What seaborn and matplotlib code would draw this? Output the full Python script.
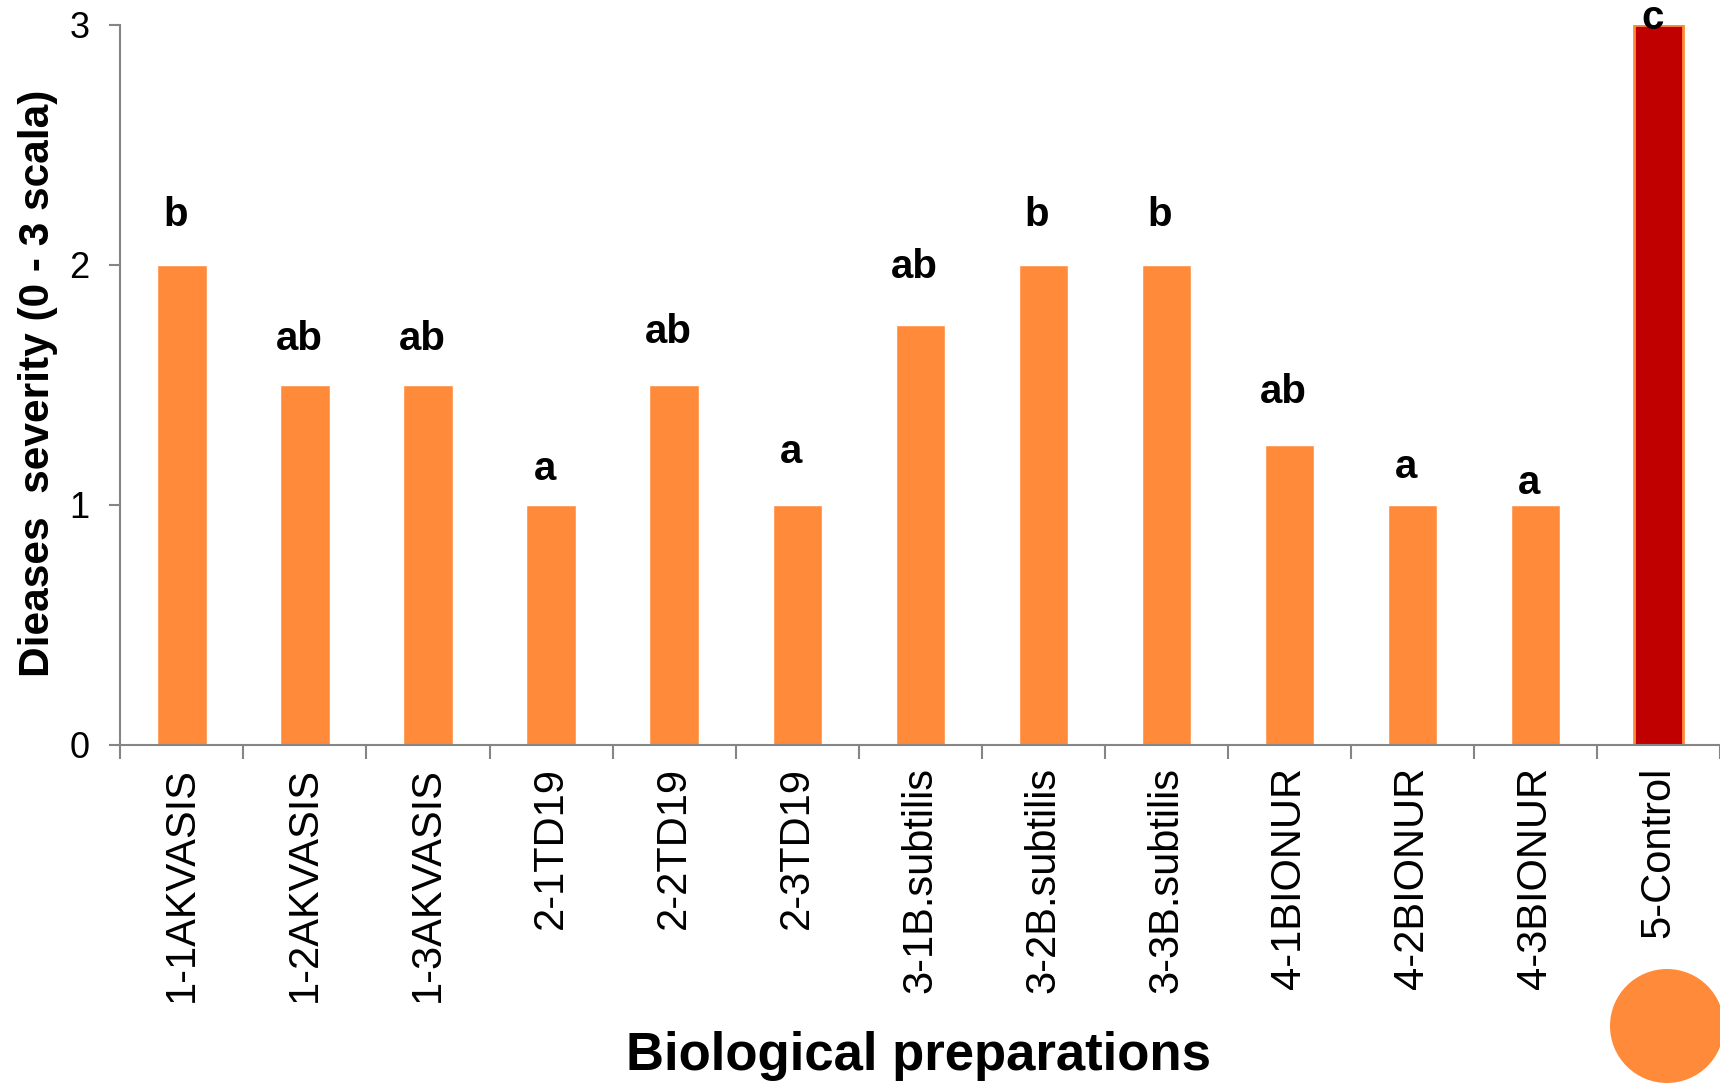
import matplotlib
matplotlib.use("Agg")
import matplotlib.pyplot as plt
from matplotlib.patches import Ellipse
import seaborn as sns
import pandas as pd

# Disease severity per biological preparation
treatments = [
    "1-1AKVASIS", "1-2AKVASIS", "1-3AKVASIS",
    "2-1TD19", "2-2TD19", "2-3TD19",
    "3-1B.subtilis", "3-2B.subtilis", "3-3B.subtilis",
    "4-1BIONUR", "4-2BIONUR", "4-3BIONUR",
    "5-Control",
]
severity = [2.0, 1.5, 1.5, 1.0, 1.5, 1.0, 1.75, 2.0, 2.0, 1.25, 1.0, 1.0, 3.0]
letters = ["b", "ab", "ab", "a", "ab", "a", "ab", "b", "b", "ab", "a", "a", "c"]

df = pd.DataFrame({"Treatment": treatments, "Severity": severity})

orange = "#FF8B3A"
darkred = "#C00000"
grey = "#858585"
colors = [orange] * 12 + [darkred]

sns.set_style("white")
plt.rcParams["font.family"] = ["Liberation Sans", "DejaVu Sans"]
plt.rcParams["text.color"] = "black"
plt.rcParams["xtick.color"] = "black"
plt.rcParams["ytick.color"] = "black"

fig = plt.figure(figsize=(17.2, 10.86), dpi=100)
ax = fig.add_axes([0.070, 0.314, 0.930, 0.663])

sns.barplot(x="Treatment", y="Severity", data=df, hue="Treatment",
            palette=colors, width=0.4, saturation=1, legend=False, ax=ax)

# control bar has an orange outline
ax.patches[-1].set_edgecolor(orange)
ax.patches[-1].set_linewidth(2)

# significance letters (placed by hand above each bar in the original)
label_gap = [0.21, 0.19, 0.19, 0.15, 0.22, 0.22, 0.24, 0.21, 0.21, 0.22, 0.16, 0.09, 0.03]
for i, (v, lab) in enumerate(zip(severity, letters)):
    ax.text(i - 0.05, v + label_gap[i], lab, ha="center", va="center",
            fontsize=29, fontweight="bold", color="black")

ax.set_ylim(0, 3)
ax.set_xlim(-0.5, 12.5)
ax.set_yticks([0, 1, 2, 3])
ax.tick_params(axis="y", labelsize=26, length=8, width=1.5, color=grey,
               labelcolor="black", direction="out", pad=14, left=True)

# labels at category centres, tick marks at the boundaries
ax.set_xticks(range(len(treatments)))
ax.set_xticklabels(treatments, rotation=90, fontsize=30)
ax.tick_params(axis="x", which="major", length=0, pad=16, labelcolor="black")
ax.set_xticks([i - 0.5 for i in range(len(treatments) + 1)], minor=True)
ax.tick_params(axis="x", which="minor", length=10, width=1.5, color=grey,
               direction="out", bottom=True)

for side in ["top", "right"]:
    ax.spines[side].set_visible(False)
for side in ["left", "bottom"]:
    ax.spines[side].set_color(grey)
    ax.spines[side].set_linewidth(1.5)

ax.set_xlabel("")
ax.set_ylabel("")
fig.text(0.534, 0.028, "Biological preparations", ha="center", va="center",
         fontsize=38, fontweight="bold", color="black")
fig.text(0.022, 0.647, "Dieases  severity (0 - 3 scala)", ha="center", va="center",
         rotation=90, fontsize=30.5, fontweight="bold", color="black",
         family=["Liberation Sans Narrow", "Liberation Sans", "DejaVu Sans"])

# orange dot in the bottom-right corner
fig.patches.append(Ellipse((1667 / 1720, 1 - 1026 / 1086), 114 / 1720, 114 / 1086,
                           transform=fig.transFigure, facecolor=orange,
                           edgecolor="none", clip_on=False))

fig.savefig("out.png", dpi=100)
